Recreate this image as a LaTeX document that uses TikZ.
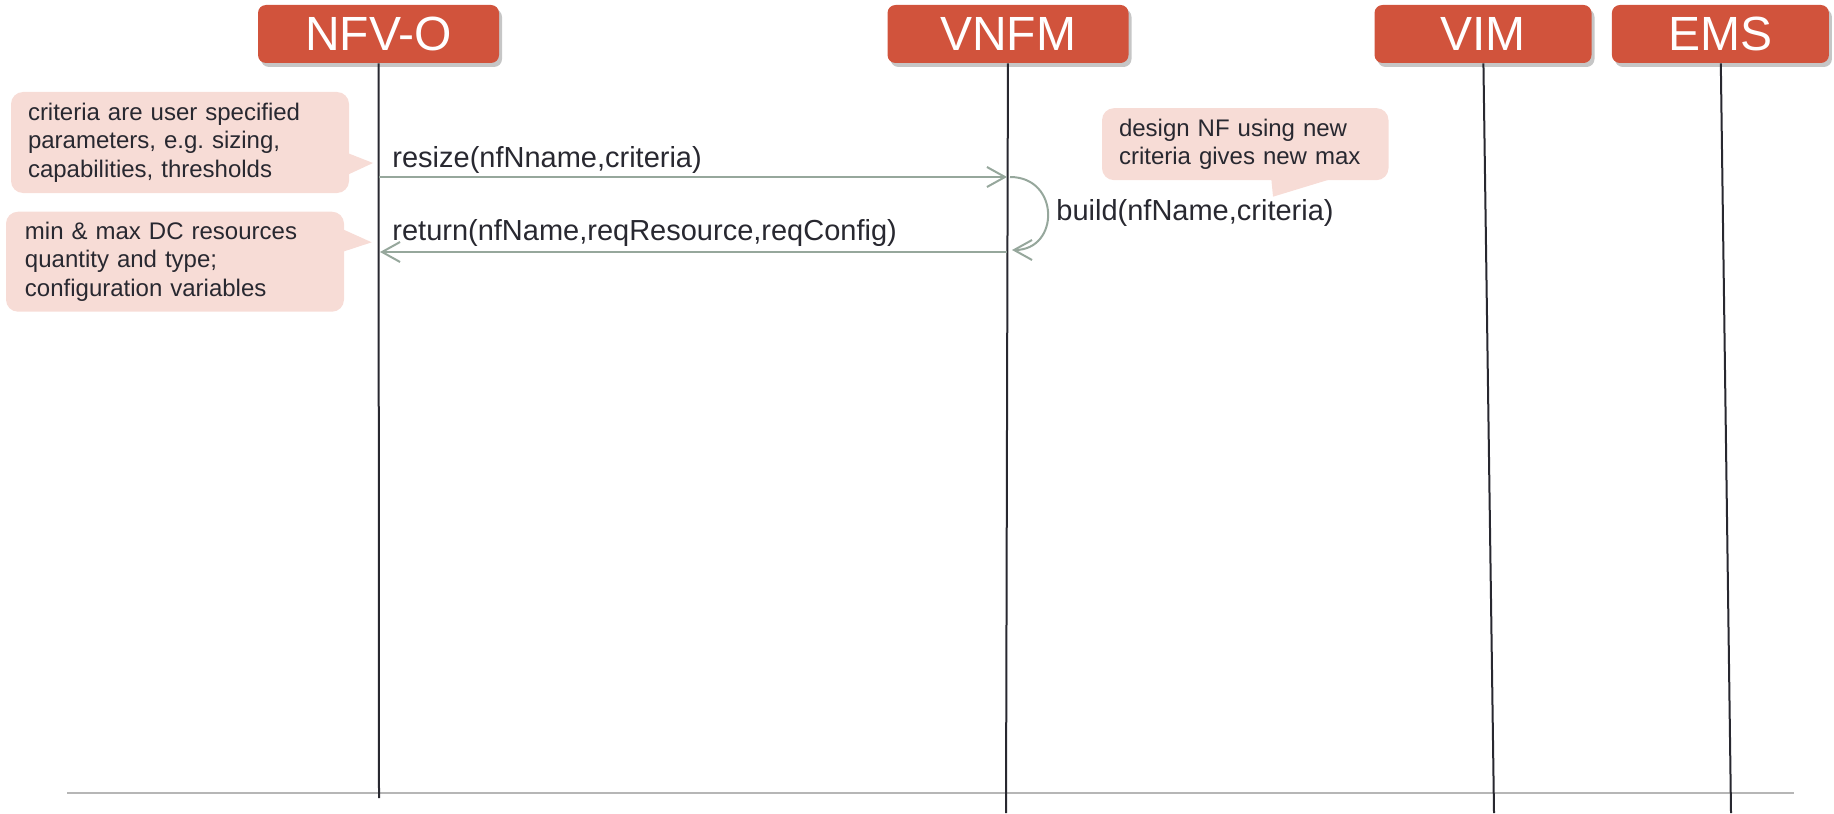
\documentclass[tikz,border=0pt]{standalone}
\usepackage{fontspec}
\setmainfont{Liberation Sans}
\usetikzlibrary{positioning, arrows.meta, shadows}
\definecolor{seqRed}{RGB}{209, 83, 60}
\definecolor{seqPink}{RGB}{247, 220, 214}
\definecolor{seqGreen}{RGB}{150, 167, 156}
\definecolor{seqInk}{RGB}{40, 40, 48}
\definecolor{seqRule}{RGB}{182, 182, 182}
\frenchspacing
\tikzset{
    actor/.style={
        rectangle,
        rounded corners=4pt,
        fill=seqRed,
        text=white,
        font=\fontsize{24}{28}\selectfont,
        inner sep=0pt,
        minimum height=29pt,
        drop shadow={opacity=0.45, shadow xshift=1.5pt, shadow yshift=-2pt}
    },
    note/.style={
        rectangle,
        rounded corners=6pt,
        fill=seqPink,
        text=seqInk,
        font=\fontsize{12}{14.35}\selectfont,
        align=left,
        inner ysep=0pt
    },
    pointer/.style={
        fill=seqPink
    },
    lifeline/.style={
        draw=seqInk,
        line width=1pt
    },
    rule/.style={
        draw=seqRule,
        line width=1.2pt
    },
    call/.style={
        -{Straight Barb[length=9pt, width=10pt]},
        seqGreen,
        line width=1pt
    },
    calllabel/.style={
        anchor=base west,
        text=seqInk,
        font=\fontsize{14.5}{17}\selectfont,
        inner sep=0pt
    }
}

\begin{document}
\begin{tikzpicture}[x=0.5pt, y=-0.5pt]
  \useasboundingbox (0,0) rectangle (1834,813);

  % Bottom rule
  \coordinate (rule-l) at (67,793);
  \coordinate (rule-r) at (1794,793);
  \draw[rule] (rule-l) -- (rule-r);

  % Actors
  \node[actor, minimum width=120.5pt] (nfvo) at (378.5,34) {NFV-O};
  \node[actor, minimum width=120.5pt] (vnfm) at (1008,34) {VNFM};
  \node[actor, minimum width=108.5pt] (vim) at (1483,34) {VIM};
  \node[actor, minimum width=108.5pt] (ems) at (1720.4,34) {EMS};

  % Lifelines
  \coordinate (nfvo-end) at (379,798);
  \coordinate (vnfm-end) at (1006,813);
  \coordinate (vim-end) at (1494,813);
  \coordinate (ems-end) at (1731,813);
  \draw[lifeline] (nfvo) -- (nfvo-end);
  \draw[lifeline] (vnfm) -- (vnfm-end);
  \draw[lifeline] (vim) -- (vim-end);
  \draw[lifeline] (ems) -- (ems-end);

  % Notes
  \node[note, minimum height=50.5pt, text width=152pt, inner xsep=8.5pt] (note-criteria) at (180,142.5)
    {criteria are user specified\\parameters, e.g. sizing,\\capabilities, thresholds};
  \fill[pointer] (345,152) -- (373,163) -- (345,176) -- cycle;

  \node[note, minimum height=50pt, text width=150pt, inner xsep=9.5pt] (note-resources) at (175,261.7)
    {min \& max DC resources\\quantity and type;\\configuration variables};
  \fill[pointer] (340,228) -- (371.7,242.3) -- (340,252.7) -- cycle;

  \node[note, minimum height=36pt, text width=126.25pt, inner xsep=8.5pt] (note-design) at (1245.25,144.15)
    {design NF using new\\criteria gives new max};
  \fill[pointer] (1271,176) -- (1341,176) -- (1273,196.7) -- cycle;

  % Messages
  \coordinate (nfvo-resize) at (379,177);
  \coordinate (vnfm-resize) at (1007,177);
  \draw[call] (nfvo-resize) -- (vnfm-resize);
  \node[calllabel] (resize-lbl) at (392,167) {resize(nfNname,criteria)};

  \coordinate (vnfm-build-in) at (1010,177);
  \coordinate (vnfm-build-out) at (1012,250);
  \draw[call] (vnfm-build-in) .. controls (1060,177) and (1060,250) .. (vnfm-build-out);
  \node[calllabel] (build-lbl) at (1056,220) {build(nfName,criteria)};

  \coordinate (vnfm-return) at (1007,252);
  \coordinate (nfvo-return) at (380,252);
  \draw[call] (vnfm-return) -- (nfvo-return);
  \node[calllabel] (return-lbl) at (392,240) {return(nfName,reqResource,reqConfig)};

\end{tikzpicture}
\end{document}
